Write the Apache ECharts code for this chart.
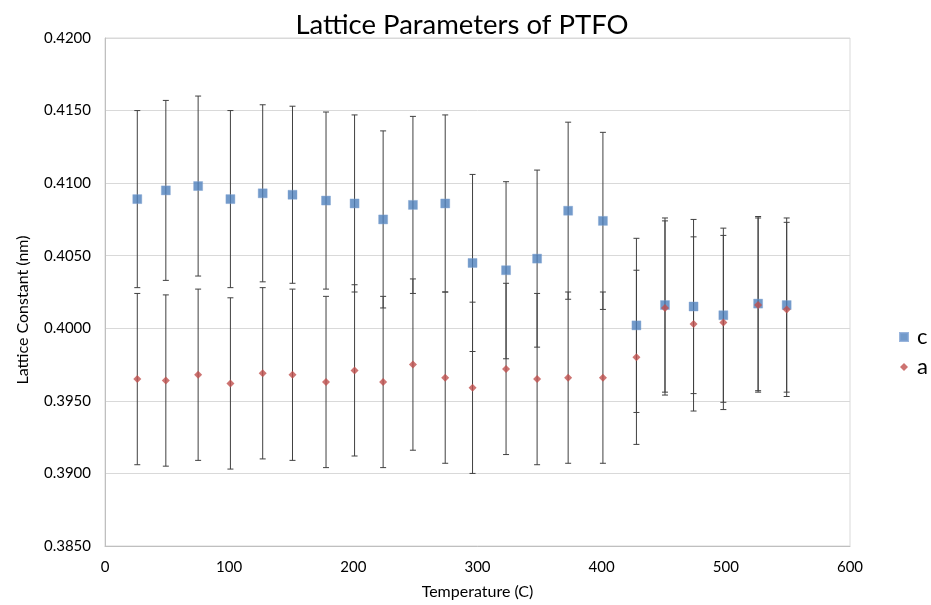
<!DOCTYPE html>
<html>
<head>
<meta charset="utf-8">
<script src="https://cdn.jsdelivr.net/npm/echarts@6/dist/echarts.min.js"></script>
<style>
  html, body { margin: 0; padding: 0; background: #fff; }
  #chart { width: 931px; height: 605px; }
</style>
</head>
<body>
<div id="chart"></div>
<script>
  // temperatures (C)
  var temps = [26, 49, 75, 101, 127, 151, 178, 201, 224, 248, 274, 296, 323, 348, 373, 401, 428, 451, 474, 498, 526, 549];
  // lattice constant c and its error
  var cVals = [0.4089, 0.4095, 0.4098, 0.4089, 0.4093, 0.4092, 0.4088, 0.4086, 0.4075, 0.4085, 0.4086, 0.4045,
               0.4040, 0.4048, 0.4081, 0.4074, 0.4002, 0.4016, 0.4015, 0.4009, 0.4017, 0.4016];
  var cErr = [0.0061, 0.0062, 0.0062, 0.0061, 0.0061, 0.0061, 0.0061, 0.0061, 0.0061, 0.0061, 0.0061, 0.0061,
              0.0061, 0.0061, 0.0061, 0.0061, 0.0060, 0.0060, 0.0060, 0.0060, 0.0060, 0.0060];
  // lattice constant a and its error
  var aVals = [0.3965, 0.3964, 0.3968, 0.3962, 0.3969, 0.3968, 0.3963, 0.3971, 0.3963, 0.3975, 0.3966, 0.3959,
               0.3972, 0.3965, 0.3966, 0.3966, 0.3980, 0.4014, 0.4003, 0.4004, 0.4016, 0.4013];
  var aErr = [0.0059, 0.0059, 0.0059, 0.0059, 0.0059, 0.0059, 0.0059, 0.0059, 0.0059, 0.0059, 0.0059, 0.0059,
              0.0059, 0.0059, 0.0059, 0.0059, 0.0060, 0.0060, 0.0060, 0.0060, 0.0060, 0.0060];

  var font = 'Lato';
  var colors = ['#4F81BD', '#C0504D'];

  function pts(vals) {
    var out = [];
    for (var i = 0; i < temps.length; i++) out.push([temps[i], vals[i]]);
    return out;
  }
  function bars(vals, errs) {
    var out = [];
    for (var i = 0; i < temps.length; i++) out.push([temps[i], vals[i] - errs[i], vals[i] + errs[i]]);
    return out;
  }

  // 误差线
  function renderErr(params, api) {
    var lo = api.coord([api.value(0), api.value(1)]);
    var hi = api.coord([api.value(0), api.value(2)]);
    var w = 3;
    var st = { stroke: '#404040', lineWidth: 1 };
    return {
      type: 'group',
      children: [
        { type: 'line', shape: { x1: lo[0], y1: lo[1], x2: hi[0], y2: hi[1] }, style: st },
        { type: 'line', shape: { x1: lo[0] - w, y1: lo[1], x2: lo[0] + w, y2: lo[1] }, style: st },
        { type: 'line', shape: { x1: hi[0] - w, y1: hi[1], x2: hi[0] + w, y2: hi[1] }, style: st }
      ]
    };
  }

  var myChart = echarts.init(document.getElementById('chart'));
  var option = {
    animation: false,
    title: {
      text: 'Lattice Parameters of PTFO',
      left: 457,
      textAlign: 'center',
      top: 6,
      textStyle: { fontFamily: font, fontSize: 27.5, fontWeight: 'normal', color: '#000' }
    },
    legend: {
      orient: 'vertical',
      left: 899,
      top: 326,
      padding: 0,
      itemWidth: 8,
      itemHeight: 8,
      itemGap: 8,
      textStyle: { fontFamily: font, fontSize: 22, lineHeight: 22, color: '#000', padding: [0, 0, 0, 4] },
      data: [
        { name: 'c', icon: 'rect' },
        { name: 'a', icon: 'diamond' }
      ]
    },
    grid: {
      left: 105, right: 81, top: 38, bottom: 58,
      show: true, borderColor: '#D9D9D9', borderWidth: 1
    },
    xAxis: {
      type: 'value',
      min: 0, max: 600, interval: 100,
      name: 'Temperature (C)',
      nameLocation: 'middle',
      nameGap: 38,
      nameTextStyle: { fontFamily: font, fontSize: 16, color: '#000' },
      axisLine: { show: true, lineStyle: { color: '#BFBFBF' } },
      axisTick: { show: false },
      splitLine: { show: false },
      axisLabel: { fontFamily: font, fontSize: 15, color: '#000', margin: 14 }
    },
    yAxis: {
      type: 'value',
      min: 0.385, max: 0.42, interval: 0.005,
      name: 'Lattice Constant (nm)',
      nameLocation: 'middle',
      nameGap: 74,
      nameTextStyle: { fontFamily: font, fontSize: 16, color: '#000', padding: [0, 36, 0, 0] },
      axisLine: { show: true, lineStyle: { color: '#BFBFBF' } },
      axisTick: { show: false },
      splitLine: { show: true, lineStyle: { color: '#D9D9D9' } },
      axisLabel: {
        fontFamily: font, fontSize: 15, color: '#000', margin: 14,
        formatter: function (v) { return v.toFixed(4); }
      }
    },
    series: [
      {
        name: 'c err', type: 'custom', renderItem: renderErr,
        encode: { x: 0, y: [1, 2] }, data: bars(cVals, cErr), z: 2
      },
      {
        name: 'a err', type: 'custom', renderItem: renderErr,
        encode: { x: 0, y: [1, 2] }, data: bars(aVals, aErr), z: 2
      },
      {
        name: 'c', type: 'scatter', symbol: 'rect', symbolSize: 9,
        itemStyle: { color: colors[0], borderColor: '#7FA3D3', borderWidth: 0.5 },
        data: pts(cVals), z: 3
      },
      {
        name: 'a', type: 'scatter', symbol: 'diamond', symbolSize: 8,
        itemStyle: { color: colors[1] },
        data: pts(aVals), z: 3
      }
    ]
  };
  myChart.setOption(option);
</script>
</body>
</html>
